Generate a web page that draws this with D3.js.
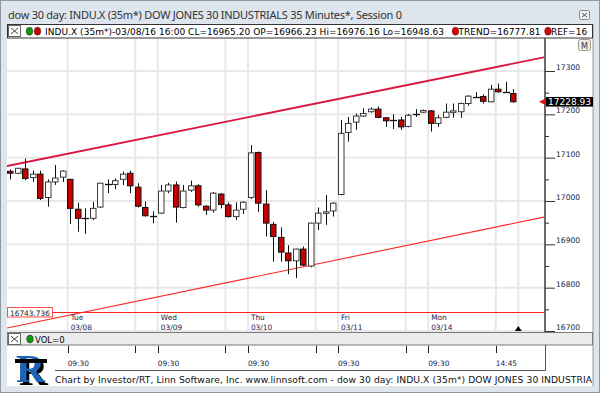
<!DOCTYPE html>
<html>
<head>
<meta charset="utf-8">
<script src="https://cdn.jsdelivr.net/npm/d3@7"></script>
<style>
  body { margin: 0; background: #dfe5ed; }
  svg { display: block; }
</style>
</head>
<body>
<svg id="chart" width="600" height="393"></svg>
<script>
// 35 minute bars, last 8 of Mon 03/07 then Tue 03/08 .. Mon 03/14
var open  = [17068.5,17064,17074,17054,17062,17008,17044,17055,
             17050,16981,16961,16960,16986,17040,17038,17050,17064,17032,16985,16966.23,
             16972,17023,17037,16985,17025,17035,16988,16979,17016,16991,16964,16981,
             17008,17112,16993,16946,16916,16880,16862,16889,16850,16949,16973,16977,
             17015,17158,17182,17196,17206,17212,17192,17189,17187,17172,17200,17205,
             17208,17179,17193,17206,17206,17225,17242,17241,17229,17258,17251,17248];
var high  = [17073,17076,17098,17070,17070,17050,17083,17071,
             17051,16996,16983,16998,17042,17050,17052,17068,17070,17041,16999,16976.16,
             17037,17042,17045,17037,17047,17039,16990,17021,17018,16997,16997,16999,
             17129,17114,17025,16952,16939,16898,16890,16895,16950,16985,17014,16997,
             17187,17194,17202,17214,17216,17218,17194,17200,17194,17201,17212,17211,
             17210,17198,17225,17225,17227,17244,17251,17246,17268,17271,17275,17258];
var low   = [17050,17062,17048,17044,17002,16987,17037,17044,
             16947,16929,16924,16956,16984,17018,17027,17037,17018,16985,16964,16948.63,
             16970,17018,16950,16983,17021,16987,16968,16973,16983,16962,16956,16970,
             17005,16975,16918,16860,16860,16831,16822,16850,16847,16933,16945,16964,
             17013,17137,17164,17194,17204,17191,17171,17166,17164,17170,17194,17203,
             17160,17171,17191,17192,17192,17220,17239,17225,17228,17250,17250,17227];
var close = [17064,17075.5,17052,17062,17006,17044,17053,17069,
             16983,16960,16960,16983,17041,17039,17047,17062,17035,16988,16966,16965.20,
             17023,17037,16986,17023,17035,16991,16979,17018,16992,16964,16979,16997,
             17111,16995,16949,16918,16882,16862,16889,16852,16949,16972,16975,16995,
             17156,17179,17196,17202,17212,17193,17185,17188,17171,17198,17201,17209,
             17179,17192,17205,17208,17225,17242,17241,17230,17258,17252,17251,17228.93];

var gridIdx    = [8,17,20,29,32,41,44,53,56,65,68];
var dayIdx     = [8,20,32,44,56];
var dayNames   = ["Tue","Wed","Thu","Fri","Mon"];
var dayDates   = ["03/08","03/09","03/10","03/11","03/14"];
var timeIdx    = [8,17,20,29,32,41,44,53,56,65];
var timeLabels = {8:"09:30",20:"09:30",32:"09:30",44:"09:30",56:"09:30",65:"14:45"};
var priceMajor = [16700,16800,16900,17000,17100,17200,17300];
var priceMinor = [16750,16850,16950,17050,17150,17250];
var trendUpper = [17082.3, 3.507];   // price at bar 0, change per bar
var trendLower = [16708.5, 3.58];
var refLevel   = 16743.736;
var lastPrice  = 17228.93;

var svg = d3.select("#chart");
var sans = "'DejaVu Sans', Verdana, sans-serif";
var navy = "#15254a";

// window frame
svg.append("rect").attr("x",0.5).attr("y",0.5).attr("width",599).attr("height",392)
  .attr("fill","#dfe5ed").attr("stroke","#8f98a3");
svg.append("text").attr("x",8).attr("y",19)
  .attr("font-family","'Noto Sans', 'Open Sans', sans-serif").attr("font-size",11)
  .attr("fill","#333").attr("textLength",394).attr("lengthAdjust","spacing")
  .text("dow 30 day: INDU.X (35m*) DOW JONES 30 INDUSTRIALS 35 Minutes*, Session 0");
var cb = svg.append("g");
cb.append("rect").attr("x",579.5).attr("y",10.5).attr("width",10).attr("height",9)
  .attr("fill","#f2f2f2").attr("stroke","#8a8a8a").attr("rx",1);
cb.append("path").attr("d","M582,13L587,17M587,13L582,17").attr("stroke","#555");

// white panel
svg.append("rect").attr("x",7).attr("y",24).attr("width",586).attr("height",362).attr("fill","#fff");
svg.append("line").attr("x1",593).attr("x2",593).attr("y1",24).attr("y2",386).attr("stroke","#9a9a9a");

var x = d3.scaleLinear().domain([0,68]).range([7.6,518.3]);
var y = d3.scaleLinear().domain([16700,17300]).range([331,71]);
function cx(i) { return Math.round(x(i) + 2.7) + 0.5; }

// plot area
svg.append("clipPath").attr("id","pc").append("rect")
  .attr("x",7).attr("y",38).attr("width",538).attr("height",294);
var plot = svg.append("g").attr("clip-path","url(#pc)");

plot.selectAll("line.hg").data(priceMajor).enter().append("line")
  .attr("x1",7).attr("x2",545).attr("y1",function(d){return y(d);}).attr("y2",function(d){return y(d);})
  .attr("stroke","#e8e8e8").attr("stroke-width",2);
plot.selectAll("line.vg").data(gridIdx).enter().append("line")
  .attr("x1",function(d){return x(d);}).attr("x2",function(d){return x(d);})
  .attr("y1",38).attr("y2",332).attr("stroke","#e8e8e8").attr("stroke-width",2);

// reference level
plot.append("line").attr("x1",52).attr("x2",545)
  .attr("y1",Math.round(y(refLevel))+0.5).attr("y2",Math.round(y(refLevel))+0.5)
  .attr("stroke","#ff2020");

// trend channel
var i0 = x.invert(7), i1 = x.invert(545);
function trendLine(t, w, col) {
  plot.append("line")
    .attr("x1",x(i0)).attr("y1",y(t[0]+t[1]*(i0-0.36)))
    .attr("x2",x(i1)).attr("y2",y(t[0]+t[1]*(i1-0.36)))
    .attr("stroke",col).attr("stroke-width",w);
}
trendLine(trendUpper, 1.8, "#d8173f");
trendLine(trendLower, 1.1, "#ff2626");

// candles
var bars = d3.range(close.length).map(function(i){
  return {i:i, o:open[i], h:high[i], l:low[i], c:close[i]};
});
var cg = plot.selectAll("g.bar").data(bars).enter().append("g");
cg.append("line")
  .attr("x1",function(d){return cx(d.i);}).attr("x2",function(d){return cx(d.i);})
  .attr("y1",function(d){return y(d.h);}).attr("y2",function(d){return y(d.l);})
  .attr("stroke","#111").attr("stroke-width",1);
cg.filter(function(d){return Math.abs(d.c-d.o) < 1.5;}).append("line")
  .attr("x1",function(d){return cx(d.i)-3.5;}).attr("x2",function(d){return cx(d.i)+3.5;})
  .attr("y1",function(d){return Math.round(y(d.c))+0.5;}).attr("y2",function(d){return Math.round(y(d.c))+0.5;})
  .attr("stroke","#111").attr("stroke-width",1.3);
cg.filter(function(d){return Math.abs(d.c-d.o) >= 1.5;}).append("rect")
  .attr("x",function(d){return cx(d.i)-3;}).attr("width",5.5)
  .attr("y",function(d){return y(Math.max(d.o,d.c));})
  .attr("height",function(d){return Math.max(1.5, y(Math.min(d.o,d.c))-y(Math.max(d.o,d.c)));})
  .attr("fill",function(d){return d.c > d.o ? "#fff" : "#c40000";})
  .attr("stroke",function(d){return d.c > d.o ? "#3a3a3a" : "#111";}).attr("stroke-width",1);

// marker at the next session start
plot.append("path").attr("d","M"+x(68)+",326L"+(x(68)-3.5)+",331L"+(x(68)+3.5)+",331Z").attr("fill","#000");

// day labels
var dl = svg.append("g").attr("font-family",sans).attr("font-size",7.4).attr("fill",navy);
dl.selectAll("text.dn").data(dayIdx).enter().append("text")
  .attr("x",function(d){return x(d)+3;}).attr("y",319.5)
  .text(function(d,k){return dayNames[k];});
dl.selectAll("text.dd").data(dayIdx).enter().append("text")
  .attr("x",function(d){return x(d)+3;}).attr("y",329.5)
  .text(function(d,k){return dayDates[k];});

// REF box
svg.append("rect").attr("x",7.5).attr("y",307.5).attr("width",45).attr("height",9.5)
  .attr("fill","#fff").attr("stroke","#ff5050");
svg.append("text").attr("x",10).attr("y",315.5).attr("font-family",sans).attr("font-size",7.4)
  .attr("fill","#222").text(d3.format(".3f")(refLevel));

// right price axis
svg.append("line").attr("x1",545).attr("x2",545).attr("y1",38).attr("y2",332)
  .attr("stroke","#6a6a6a").attr("stroke-width",2);
var ax = svg.append("g").attr("transform","translate(545,0)")
  .call(d3.axisRight(y).tickValues(priceMajor).tickSize(10).tickSizeOuter(0).tickPadding(1).tickFormat(d3.format("d")));
ax.select(".domain").remove();
ax.selectAll("line").attr("stroke","#333");
ax.selectAll("text").attr("dy","-0.2em").attr("font-family",sans).attr("font-size",7.6).attr("fill",navy);
var axm = svg.append("g").attr("transform","translate(545,0)")
  .call(d3.axisRight(y).tickValues(priceMinor).tickSize(4).tickSizeOuter(0).tickFormat(""));
axm.select(".domain").remove();
axm.selectAll("line").attr("stroke","#333");

// last price flag
var ly = y(lastPrice);
svg.append("path").attr("d","M539,"+ly+"L546,"+(ly-3.5)+"L546,"+(ly+3.5)+"Z").attr("fill","#e01010");
svg.append("rect").attr("x",546).attr("y",ly-4.8).attr("width",47).attr("height",9.6).attr("fill","#000");
svg.append("text").attr("x",548).attr("y",ly+3.5).attr("font-family",sans).attr("font-size",9)
  .attr("fill","#fff").text(d3.format(".2f")(lastPrice));

// M button
svg.append("rect").attr("x",578.5).attr("y",39.5).attr("width",12).attr("height",11).attr("rx",2)
  .attr("fill","#efece4").attr("stroke","#a09a8a");
svg.append("text").attr("x",584.5).attr("y",48.5).attr("text-anchor","middle").attr("font-family",sans)
  .attr("font-size",8).attr("fill","#333").text("M");

// header bar
svg.append("rect").attr("x",7.5).attr("y",24.5).attr("width",585).attr("height",13.5)
  .attr("fill","#fff").attr("stroke","#333");
function xBox(yy) {
  svg.append("rect").attr("x",8.5).attr("y",yy).attr("width",12).attr("height",11)
    .attr("fill","#fff").attr("stroke","#666");
  svg.append("path").attr("d","M11,"+(yy+2.5)+"L18,"+(yy+8.5)+"M18,"+(yy+2.5)+"L11,"+(yy+8.5))
    .attr("stroke","#444");
}
xBox(25.5);
function dot(px, py, col) {
  svg.append("ellipse").attr("cx",px).attr("cy",py).attr("rx",3.3).attr("ry",4)
    .attr("fill",col).attr("stroke","#333").attr("stroke-width",0.6);
}
dot(29.5,31.2,"#0a9a0a"); dot(37.5,31.2,"#d00000");
var hdr = svg.append("g").attr("font-family",sans).attr("font-size",9).attr("fill","#000");
hdr.append("text").attr("x",45).attr("y",34.5).attr("textLength",399).attr("lengthAdjust","spacing")
  .text("INDU.X (35m*)-03/08/16 16:00 CL=" + d3.format(".2f")(close[19]) + " OP=" + d3.format(".2f")(open[19]) +
        " Hi=" + d3.format(".2f")(high[19]) + " Lo=" + d3.format(".2f")(low[19]));
dot(455.5,31.2,"#e00000");
hdr.append("text").attr("x",458.5).attr("y",34.5).attr("textLength",82).attr("lengthAdjust","spacing")
  .text("TREND=16777.81");
dot(548,31.2,"#e00000");
svg.append("clipPath").attr("id","hc").append("rect").attr("x",7).attr("y",24).attr("width",585).attr("height",14);
hdr.append("text").attr("x",551).attr("y",34.5).attr("clip-path","url(#hc)").text("REF=16");

// volume pane header
svg.append("rect").attr("x",7.5).attr("y",332.5).attr("width",585).attr("height",12.5)
  .attr("fill","#ececec").attr("stroke","#7a7a7a");
xBox(333.5);
dot(30,339,"#0a9a0a");
svg.append("text").attr("x",35).attr("y",342.5).attr("font-family",sans).attr("font-size",8.5)
  .attr("fill","#000").text("VOL=0");

// time axis
var ta = svg.append("g");
ta.selectAll("line.tt").data(timeIdx).enter().append("line")
  .attr("x1",function(d){return Math.round(x(d))+0.5;}).attr("x2",function(d){return Math.round(x(d))+0.5;})
  .attr("y1",346).attr("y2",353).attr("stroke","#222");
ta.selectAll("text").data(timeIdx.filter(function(d){return timeLabels[d];})).enter().append("text")
  .attr("x",function(d){return x(d);}).attr("y",366).attr("font-family",sans).attr("font-size",7.4)
  .attr("fill",navy).text(function(d){return timeLabels[d];});
ta.append("path").attr("d","M55,370.5H545.5V345").attr("fill","none").attr("stroke","#555");

// logo: blue R with a black drop shadow and a dark band
var defs = svg.append("defs");
var f = defs.append("filter").attr("id","rs").attr("x","-20%").attr("y","-20%").attr("width","160%").attr("height","160%");
f.append("feDropShadow").attr("dx",3).attr("dy",3).attr("stdDeviation",0)
  .attr("flood-color","#000").attr("flood-opacity",1);
var lg = svg.append("g");
lg.append("text").attr("x",16).attr("y",382).attr("font-family","'Liberation Serif', serif")
  .attr("font-weight","bold").attr("font-size",40).attr("fill","#1c64b4")
  .attr("filter","url(#rs)").text("R");
lg.append("rect").attr("x",15).attr("y",359).attr("width",32).attr("height",4).attr("fill","#000");

// footer
svg.append("text").attr("x",55).attr("y",382.5).attr("font-family",sans).attr("font-size",9.2)
  .attr("fill","#111").attr("textLength",537).attr("lengthAdjust","spacing")
  .text("Chart by Investor/RT, Linn Software, Inc. www.linnsoft.com - dow 30 day: INDU.X (35m*) DOW JONES 30 INDUSTRIA");
</script>
</body>
</html>
